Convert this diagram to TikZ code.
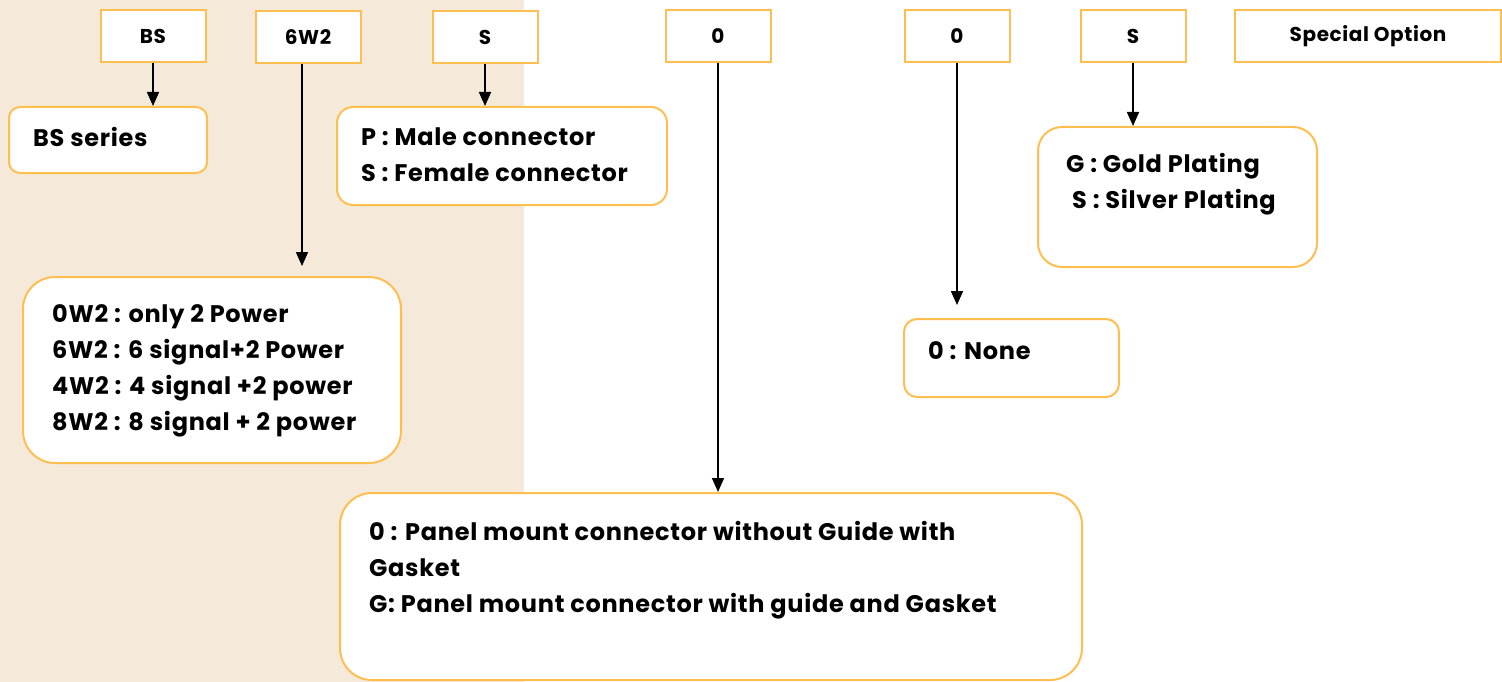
\documentclass[tikz,border=0pt]{standalone}
\usepackage{fontspec}
\setmainfont{Poppins}[LetterSpace=3]
\usepackage{xcolor}
\usetikzlibrary{arrows.meta}

\definecolor{bgbeige}{RGB}{245,234,217}
\definecolor{boxorange}{RGB}{255,190,80}

\begin{document}
\begin{tikzpicture}[x=1pt,y=-1pt]
\tikzset{codebox/.style={draw=boxorange,fill=white,line width=2pt,inner sep=0pt,minimum width=105pt,minimum height=52pt,font=\fontsize{20}{24}\selectfont\bfseries}}
\tikzset{optbox/.style={draw=boxorange,fill=white,line width=2pt,inner sep=0pt,anchor=north west}}
\tikzset{opttext/.style={anchor=north west,inner sep=0pt,align=left,font=\fontsize{24}{36}\selectfont\bfseries}}
\tikzset{pointer/.style={-{Triangle[width=12pt,length=14pt]},line width=1.6pt}}

\useasboundingbox (0,0) rectangle (1502,682);
\fill[bgbeige] (0,0) rectangle (524,682);

% code fields
\node[codebox] (series) at (153,36) {BS};
\node[codebox] (contacts) at (308,37) {6W2};
\node[codebox] (gender) at (485,37) {S};
\node[codebox] (mount) at (718,36) {0};
\node[codebox] (extra) at (957,36) {0};
\node[codebox] (plating) at (1133,36) {S};
\node[codebox,minimum width=266pt] (special) at (1368,36) {Special Option};

% option boxes
\node[optbox,minimum width=198pt,minimum height=66pt,rounded corners=11pt] (seriesbox) at (8,106) {};
\node[opttext] (seriestext) at ([xshift=25pt,yshift=-21pt]seriesbox.north west) {BS series};

\node[optbox,minimum width=330pt,minimum height=98pt,rounded corners=16pt] (genderbox) at (336,106) {};
\node[opttext] (gendertext) at ([xshift=25pt,yshift=-22pt]genderbox.north west) {P : Male connector\\S : Female connector};

\node[optbox,minimum width=378pt,minimum height=186pt,rounded corners=32pt] (contactsbox) at (22,276) {};
\node[opttext] (contactstext) at ([xshift=30pt,yshift=-28pt]contactsbox.north west)
  {0W2 : only 2 Power\\6W2 : 6 signal+2 Power\\4W2 : 4 signal +2 power\\8W2 : 8 signal + 2 power};

\node[optbox,minimum width=279pt,minimum height=140pt,rounded corners=24pt] (platingbox) at (1037,126) {};
\node[opttext] (platingtext) at ([xshift=29pt,yshift=-27pt]platingbox.north west)
  {G : Gold Plating\\\hspace*{6pt}S : Silver Plating};

\node[optbox,minimum width=215pt,minimum height=78pt,rounded corners=13pt] (extrabox) at (903,318) {};
\node[opttext] (extratext) at ([xshift=25pt,yshift=-23pt]extrabox.north west) {0 : None};

\node[optbox,minimum width=742pt,minimum height=187pt,rounded corners=32pt] (mountbox) at (339,492) {};
\node[opttext] (mounttext) at ([xshift=30pt,yshift=-29pt]mountbox.north west)
  {0 : Panel mount connector without Guide with\\Gasket\\G: Panel mount connector with guide and Gasket};

% pointers
\draw[pointer] (series.south) -- (series.south |- seriesbox.north);
\draw[pointer,shorten >=10pt] ([xshift=-6pt]contacts.south) -- ([xshift=-6pt]contacts.south |- contactsbox.north);
\draw[pointer] (gender.south) -- (gender.south |- genderbox.north);
\draw[pointer] (mount.south) -- (mount.south |- mountbox.north);
\draw[pointer,shorten >=13pt] (extra.south) -- (extra.south |- extrabox.north);
\draw[pointer] (plating.south) -- (plating.south |- platingbox.north);
\end{tikzpicture}
\end{document}
